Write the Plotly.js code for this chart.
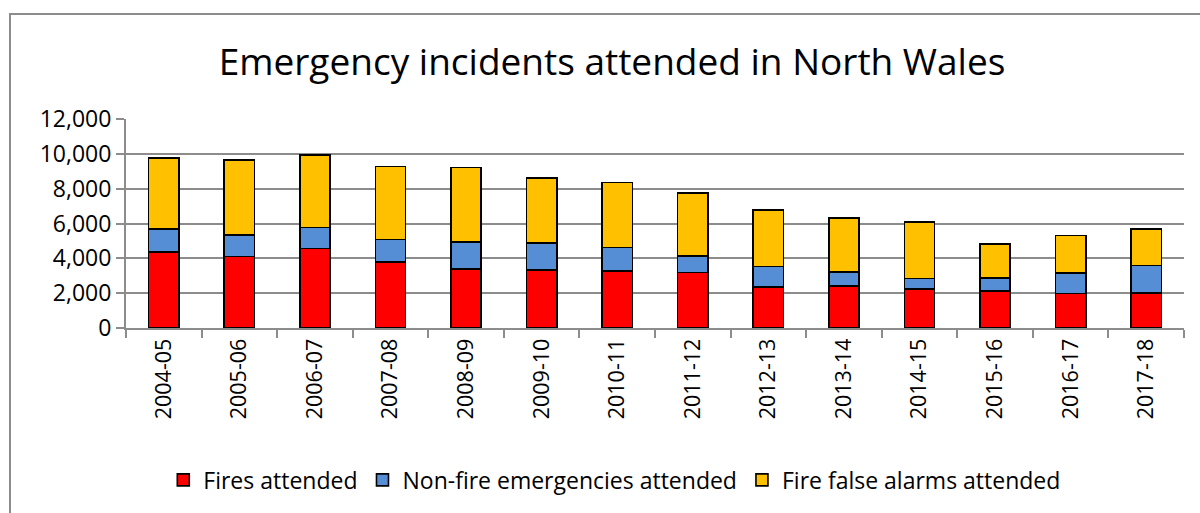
<!DOCTYPE html>
<html>
<head>
<meta charset="utf-8">
<script src="https://cdn.plot.ly/plotly-3.0.1.min.js"></script>
<style>
  html, body { margin: 0; padding: 0; background: #fff; }
  #wrap { position: relative; width: 1200px; height: 513px; overflow: hidden; }
  #chart { width: 1200px; height: 513px; }
  #frame { position: absolute; left: 9px; top: 13px; width: 1300px; height: 600px;
           border-left: 2px solid #8c8c8c; border-top: 2px solid #8c8c8c; pointer-events: none; }
</style>
</head>
<body>
<div id="wrap">
  <div id="chart"></div>
  <div id="frame"></div>
</div>
<script>
const years = ["2004-05","2005-06","2006-07","2007-08","2008-09","2009-10","2010-11",
               "2011-12","2012-13","2013-14","2014-15","2015-16","2016-17","2017-18"];
const firesAttended = [4380, 4110, 4570, 3800, 3400, 3340, 3280, 3190, 2340, 2400, 2230, 2110, 1980, 2000];
const nonFireEmergencies = [1320, 1230, 1190, 1290, 1530, 1540, 1350, 960, 1190, 820, 610, 770, 1190, 1590];
const fireFalseAlarms = [4050, 4300, 4180, 4180, 4280, 3720, 3720, 3600, 3250, 3110, 3240, 1960, 2150, 2110];
const yTicks = [0, 2000, 4000, 6000, 8000, 10000, 12000];

const FONT = "Open Sans, Calibri, sans-serif";
const line = {color: "#000000", width: 1.6};

const traces = [
  {type: "bar", name: "Fires attended", x: years, y: firesAttended,
   marker: {color: "#FF0000", line: line}},
  {type: "bar", name: "Non-fire emergencies attended", x: years, y: nonFireEmergencies,
   marker: {color: "#558ED5", line: line}},
  {type: "bar", name: "Fire false alarms attended", x: years, y: fireFalseAlarms,
   marker: {color: "#FFC000", line: line}}
];

const layout = {
  width: 1200, height: 513,
  barmode: "stack",
  bargap: 0.6,
  paper_bgcolor: "#ffffff",
  plot_bgcolor: "#ffffff",
  margin: {l: 126, r: 16, t: 119, b: 185},
  font: {family: FONT, color: "#000000"},
  title: {text: "Emergency incidents attended in North Wales",
          font: {family: FONT, size: 37, color: "#000000"},
          x: 0.51, xref: "container", xanchor: "center",
          y: 1 - 62/513, yref: "container", yanchor: "middle"},
  xaxis: {
    type: "category",
    tickangle: -90,
    tickfont: {family: FONT, size: 21.5, color: "#000000"},
    showline: true, linecolor: "#8c8c8c", linewidth: 2,
    ticks: "outside", tickson: "boundaries", ticklen: 8, tickcolor: "#8c8c8c", tickwidth: 2,
    showgrid: false,
    fixedrange: true
  },
  yaxis: {
    range: [0, 12000],
    tickvals: yTicks,
    ticktext: yTicks.map(v => v.toLocaleString("en-US")),
    tickfont: {family: FONT, size: 23, color: "#000000"},
    showline: true, linecolor: "#8c8c8c", linewidth: 2,
    ticks: "outside", ticklen: 8, tickcolor: "#8c8c8c", tickwidth: 2,
    showgrid: true, gridcolor: "#8c8c8c", gridwidth: 2,
    zeroline: false,
    fixedrange: true
  },
  legend: {
    orientation: "h",
    x: 0.462, xanchor: "center",
    y: -0.727, yanchor: "middle",
    traceorder: "normal",
    font: {family: FONT, size: 23, color: "#000000"},
    itemwidth: 30
  },
  showlegend: true
};

Plotly.newPlot("chart", traces, layout, {displayModeBar: false, staticPlot: true});
</script>
</body>
</html>
